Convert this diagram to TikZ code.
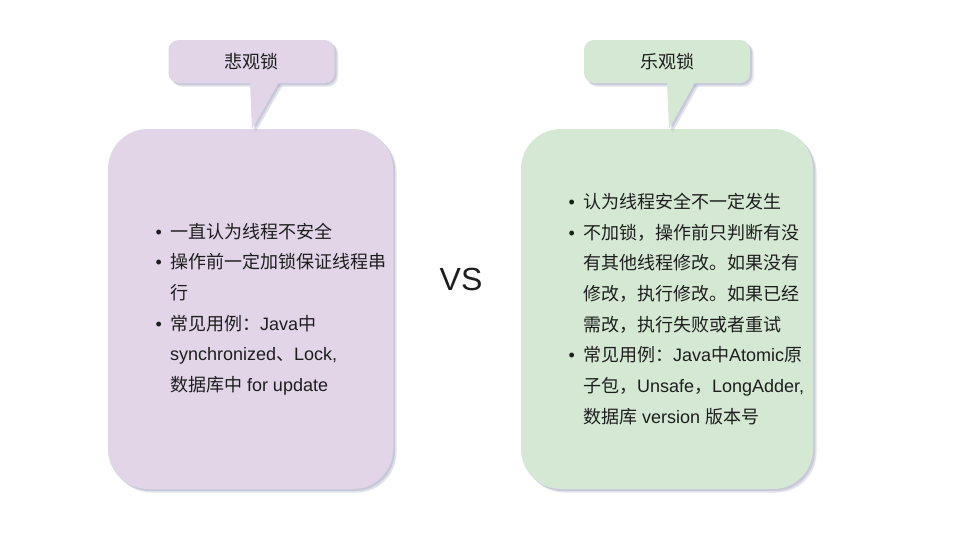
\documentclass[tikz,border=0pt]{standalone}
\usepackage{fontspec}
\setmainfont{Liberation Sans}
\newfontfamily\cjk{Noto Sans CJK SC}
\newcommand{\zhtxt}[1]{{\cjk #1}}
\usetikzlibrary{positioning, calc}
\definecolor{cpurple}{HTML}{E1D5E7}
\definecolor{cgreen}{HTML}{D5E8D4}
\definecolor{cshadow}{HTML}{8A8FB5}
\definecolor{ctext}{HTML}{1E1E1E}
\tikzset{
  every picture/.style={x=1pt, y=-1pt},
  shadowed/.style={preaction={fill=cshadow, fill opacity=.28, transform canvas={shift={(2pt,-2pt)}}},
                   preaction={fill=cshadow, fill opacity=.25, transform canvas={shift={(3.5pt,-3.5pt)}}}},
  card/.style={shadowed, fill=#1, draw=none, rounded corners=40pt, minimum height=360pt, inner sep=0pt},
  tag/.style={shadowed, fill=#1, draw=none, rounded corners=10pt, minimum width=166pt, minimum height=43pt,
              inner sep=0pt, text=ctext, font=\cjk\fontsize{18}{22}\selectfont},
  tail/.style={shadowed, fill=#1, draw=none},
  list/.style={align=left, inner sep=0pt, anchor=west, text=ctext, font=\fontsize{18}{30.7}\selectfont},
}
\newcommand{\bull}{\llap{\textbullet\hspace{8pt}}}

\begin{document}
\begin{tikzpicture}
  \useasboundingbox[fill=white] (0,0) rectangle (967,544);
  % cards
  \node[card=cpurple, minimum width=285pt] (pessbox) at (250.5,309) {};
  \node[card=cgreen, minimum width=292pt] (optbox) at (667,309) {};
  % left: pessimistic lock
  \node[tag=cpurple] (pess) at (251.5,61.5) {悲观锁};
  \coordinate (ptip) at ([xshift=1.5pt]pessbox.north);
  \fill[tail=cpurple] ([xshift=-1.5pt, yshift=1pt]pess.south) -- ([xshift=27.5pt, yshift=1pt]pess.south) -- (ptip) -- cycle;
  \node[list] (pesslist) at ([xshift=62pt]pessbox.west) {%
    \bull\zhtxt{一直认为线程不安全}\\
    \bull\zhtxt{操作前一定加锁保证线程串}\\
    \zhtxt{行}\\
    \bull\zhtxt{常见用例：}Java\zhtxt{中}\\
    synchronized\zhtxt{、}Lock,\\
    \zhtxt{数据库中} for update};
  % right: optimistic lock
  \node[tag=cgreen] (opt) at (667,61.5) {乐观锁};
  \coordinate (otip) at ([xshift=2pt]optbox.north);
  \fill[tail=cgreen] ([yshift=1pt]opt.south) -- ([xshift=28pt, yshift=1pt]opt.south) -- (otip) -- cycle;
  \node[list] (optlist) at ([xshift=62pt]optbox.west) {%
    \bull\zhtxt{认为线程安全不一定发生}\\
    \bull\zhtxt{不加锁，操作前只判断有没}\\
    \zhtxt{有其他线程修改。如果没有}\\
    \zhtxt{修改，执行修改。如果已经}\\
    \zhtxt{需改，执行失败或者重试}\\
    \bull\zhtxt{常见用例：}Java\zhtxt{中}Atomic\zhtxt{原}\\
    \zhtxt{子包，}Unsafe\zhtxt{，}LongAdder,\\
    \zhtxt{数据库} version \zhtxt{版本号}};
  % vs
  \node[text=ctext, font=\fontsize{32}{32}\selectfont] (vs) at (461,279) {VS};
\end{tikzpicture}
\end{document}
